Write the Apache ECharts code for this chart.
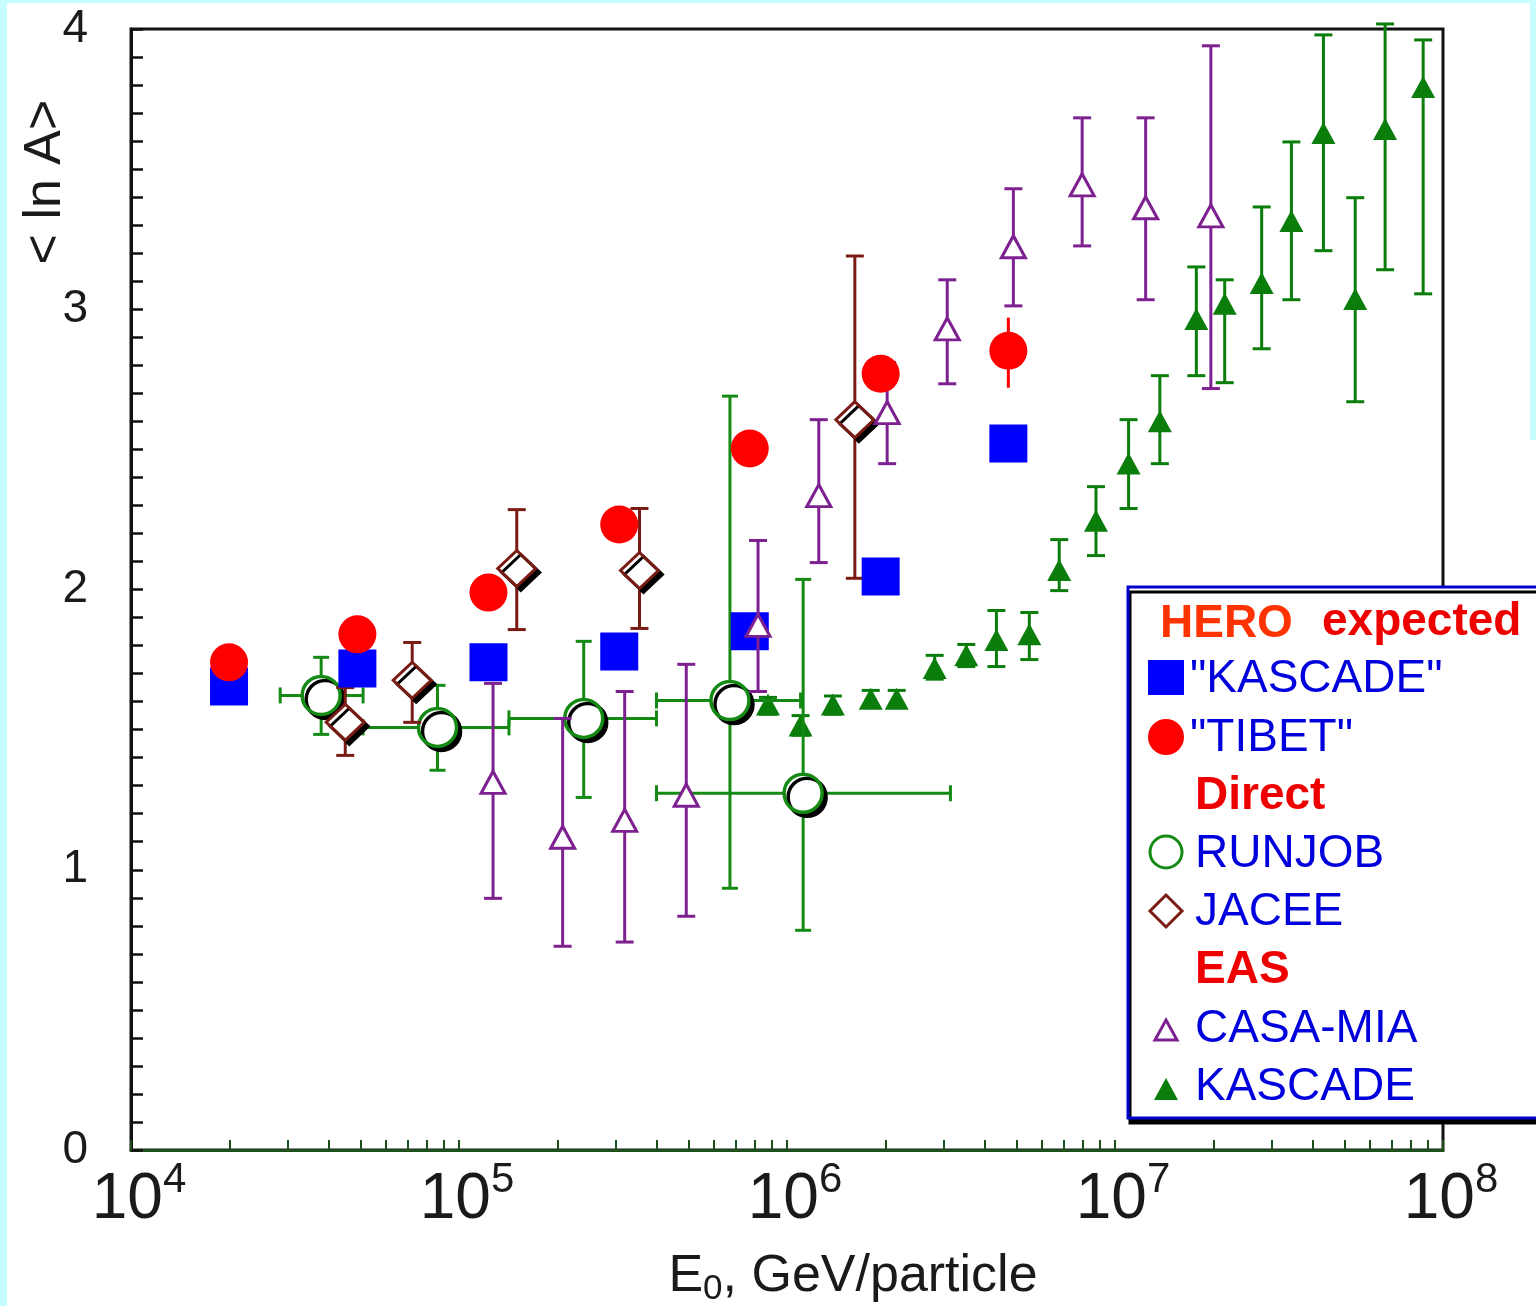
<!DOCTYPE html>
<html><head><meta charset="utf-8">
<script src="https://cdn.jsdelivr.net/npm/echarts@6/dist/echarts.min.js"></script>
<style>html,body{margin:0;padding:0;background:#fff;}#c{width:1536px;height:1306px;}</style>
</head><body><div id="c"></div>
<script>
// ---------- data ----------
// HERO expected points (same energies for both)
const heroE = [1.99e4, 4.9e4, 1.23e5, 3.08e5, 7.7e5, 1.93e6, 4.73e6];
const heroKascadeLnA = [1.654, 1.718, 1.740, 1.779, 1.851, 2.046, 2.521];
const heroTibetLnA = [1.740, 1.840, 1.989, 2.232, 2.503, 2.770, 2.852];
const heroTibetLow = [null, null, null, null, null, null, 2.72];
const heroTibetHigh = [null, null, null, null, null, null, 2.97];

// RUNJOB (direct)
const runjobE = [3.8e4, 8.6e4, 2.4e5, 6.7e5, 1.12e6];
const runjobLnA = [1.622, 1.508, 1.540, 1.604, 1.273];
const runjobLow = [1.483, 1.355, 1.258, 0.934, 0.784];
const runjobHigh = [1.758, 1.658, 1.815, 2.690, 2.036];
const runjobEmin = [2.85e4, 5.1e4, 1.42e5, 4.0e5, 4.0e5];
const runjobEmax = [5.1e4, 1.42e5, 4.0e5, 1.1e6, 3.15e6];

// JACEE (direct)
const jaceeE = [4.5e4, 7.2e4, 1.5e5, 3.55e5, 1.61e6];
const jaceeLnA = [1.526, 1.676, 2.075, 2.068, 2.606];
const jaceeLow = [1.408, 1.526, 1.857, 1.861, 2.040];
const jaceeHigh = [1.650, 1.811, 2.285, 2.289, 3.190];

// CASA-MIA (EAS)
const casaE = [1.27e5, 2.07e5, 3.2e5, 4.93e5, 8.16e5, 1.25e6, 2.02e6, 3.08e6, 4.9e6, 7.94e6, 1.24e7, 1.96e7];
const casaLnA = [1.312, 1.116, 1.176, 1.266, 1.872, 2.335, 2.631, 2.930, 3.223, 3.444, 3.362, 3.333];
const casaLow = [0.898, 0.727, 0.742, 0.834, 1.636, 2.096, 2.449, 2.734, 3.012, 3.226, 3.034, 2.717];
const casaHigh = [1.665, 1.540, 1.636, 1.733, 2.175, 2.606, 2.810, 3.105, 3.430, 3.683, 3.683, 3.940];

// KASCADE (EAS)
const kascadeE = [8.75e5, 1.10e6, 1.38e6, 1.80e6, 2.16e6, 2.82e6, 3.52e6, 4.35e6, 5.48e6, 6.76e6, 8.75e6,
                  1.10e7, 1.37e7, 1.77e7, 2.16e7, 2.80e7, 3.45e7, 4.32e7, 5.40e7, 6.66e7, 8.70e7];
const kascadeLnA = [1.590, 1.515, 1.590, 1.610, 1.610, 1.720, 1.765, 1.820, 1.840, 2.070, 2.245,
                    2.450, 2.600, 2.965, 3.020, 3.094, 3.315, 3.629, 3.037, 3.643, 3.793];
const kascadeLow = [1.555, 1.480, 1.555, 1.580, 1.580, 1.680, 1.725, 1.725, 1.750, 1.996, 2.121,
                    2.289, 2.449, 2.763, 2.738, 2.859, 3.034, 3.209, 2.670, 3.141, 3.055];
const kascadeHigh = [1.615, 1.550, 1.620, 1.640, 1.640, 1.765, 1.804, 1.925, 1.918, 2.178, 2.367,
                     2.606, 2.763, 3.151, 3.105, 3.365, 3.597, 3.979, 3.398, 4.018, 3.961];

// axis ticks / labels
const xTickValues = [1e4, 1e5, 1e6, 1e7, 1e8];
const xTickExponents = ['4', '5', '6', '7', '8'];
const xMinorMultipliers = [1, 2, 3, 4, 5, 6, 7, 8, 9];
const xDecades = [1e4, 1e5, 1e6, 1e7];
const yTickLabels = ['0', '1', '2', '3', '4'];

// ---------- chart ----------
const FF = '"Liberation Sans", Arial, Helvetica, sans-serif';
const C = {
  blue: '#0000ff', red: '#ff0000', green: '#148a14', kgreen: '#0a7d0a',
  brown: '#7a1c14', purple: '#7d2090', text: '#1a1a1a', legendBlue: '#0000dd'
};
const xMinorTicks = [];
xDecades.forEach(d => xMinorMultipliers.forEach(m => xMinorTicks.push(d * m)));
xMinorTicks.push(1e8);

function pairs(xs, ys) { return xs.map((x, i) => [x, ys[i]]); }

function vErr(name, E, lo, hi, color, cap, z) {
  const data = [];
  E.forEach((e, i) => { if (lo[i] != null) data.push([e, lo[i], hi[i]]); });
  return {
    type: 'custom', name, data, clip: false, z, silent: true,
    encode: { x: 0, y: [1, 2] },
    renderItem: (params, api) => {
      const x = api.value(0);
      const p1 = api.coord([x, api.value(1)]);
      const p2 = api.coord([x, api.value(2)]);
      const st = { stroke: color, lineWidth: 3 };
      return { type: 'group', children: [
        { type: 'line', shape: { x1: p1[0], y1: p1[1], x2: p2[0], y2: p2[1] }, style: st },
        { type: 'line', shape: { x1: p1[0] - cap / 2, y1: p1[1], x2: p1[0] + cap / 2, y2: p1[1] }, style: st },
        { type: 'line', shape: { x1: p2[0] - cap / 2, y1: p2[1], x2: p2[0] + cap / 2, y2: p2[1] }, style: st }
      ]};
    }
  };
}
function hErr(name, emin, emax, v, color, cap, z) {
  const data = v.map((y, i) => [emin[i], emax[i], y]);
  return {
    type: 'custom', name, data, clip: false, z, silent: true,
    encode: { x: [0, 1], y: 2 },
    renderItem: (params, api) => {
      const y = api.value(2);
      const p1 = api.coord([api.value(0), y]);
      const p2 = api.coord([api.value(1), y]);
      const st = { stroke: color, lineWidth: 3 };
      return { type: 'group', children: [
        { type: 'line', shape: { x1: p1[0], y1: p1[1], x2: p2[0], y2: p2[1] }, style: st },
        { type: 'line', shape: { x1: p1[0], y1: p1[1] - cap / 2, x2: p1[0], y2: p1[1] + cap / 2 }, style: st },
        { type: 'line', shape: { x1: p2[0], y1: p2[1] - cap / 2, x2: p2[0], y2: p2[1] + cap / 2 }, style: st }
      ]};
    }
  };
}

const shadow = { shadowColor: '#000', shadowBlur: 0, shadowOffsetX: 4, shadowOffsetY: 4 };
const noEmph = { disabled: true };

const series = [
  vErr('KASCADE err', kascadeE, kascadeLow, kascadeHigh, C.kgreen, 18, 2),
  { type: 'scatter', name: 'KASCADE', data: pairs(kascadeE, kascadeLnA), symbol: 'triangle', symbolSize: [24, 22],
    itemStyle: { color: C.kgreen, opacity: 1 }, z: 3, silent: true, emphasis: noEmph },
  vErr('RUNJOB verr', runjobE, runjobLow, runjobHigh, C.green, 16, 4),
  hErr('RUNJOB herr', runjobEmin, runjobEmax, runjobLnA, C.green, 16, 4),
  { type: 'scatter', name: 'RUNJOB', data: pairs(runjobE, runjobLnA), symbol: 'circle', symbolSize: 38,
    itemStyle: Object.assign({ color: '#fff', borderColor: C.green, borderWidth: 3.5, opacity: 1 }, shadow), z: 5, silent: true, emphasis: noEmph },
  vErr('JACEE err', jaceeE, jaceeLow, jaceeHigh, C.brown, 18, 6),
  { type: 'scatter', name: 'JACEE', data: pairs(jaceeE, jaceeLnA), symbol: 'diamond', symbolSize: [38, 36],
    itemStyle: Object.assign({ color: '#fff', borderColor: C.brown, borderWidth: 3, opacity: 1 }, shadow), z: 7, silent: true, emphasis: noEmph },
  { type: 'scatter', name: '"KASCADE"', data: pairs(heroE, heroKascadeLnA), symbol: 'rect', symbolSize: 38,
    itemStyle: { color: C.blue, opacity: 1 }, z: 8, silent: true, emphasis: noEmph },
  vErr('CASA err', casaE, casaLow, casaHigh, C.purple, 18, 9),
  { type: 'scatter', name: 'CASA-MIA', data: pairs(casaE, casaLnA), symbol: 'triangle', symbolSize: [24, 22],
    itemStyle: { color: '#fff', borderColor: C.purple, borderWidth: 3, opacity: 1 }, z: 10, silent: true, emphasis: noEmph },
  vErr('TIBET err', heroE, heroTibetLow, heroTibetHigh, C.red, 0, 11),
  { type: 'scatter', name: '"TIBET"', data: pairs(heroE, heroTibetLnA), symbol: 'circle', symbolSize: 38,
    itemStyle: { color: C.red, opacity: 1 }, z: 12, silent: true, emphasis: noEmph }
];

// legend drawn as graphic
const LX = 1195;
const legendText = (x, y, text, color, weight) => ({
  type: 'text', x, y, z: 101,
  style: { text, fill: color, font: (weight || 'normal') + ' 46px ' + FF, textAlign: 'left', textVerticalAlign: 'middle' }
});
const graphic = [
  { type: 'rect', shape: { x: 0, y: 0, width: 7, height: 1306 }, style: { fill: '#c8fdff' }, z: 200 },
  { type: 'rect', shape: { x: 0, y: 0, width: 1536, height: 3 }, style: { fill: '#c8fdff' }, z: 200 },
  { type: 'rect', shape: { x: 1530, y: 0, width: 6, height: 440 }, style: { fill: '#c8fdff' }, z: 200 },
  { type: 'rect', shape: { x: 1128, y: 587, width: 420, height: 531 }, z: 100,
    style: { fill: '#fff', stroke: '#0000cc', lineWidth: 3, shadowColor: '#000', shadowBlur: 0, shadowOffsetX: 2, shadowOffsetY: 5 } },
  legendText(1160, 624, 'HERO', '#ff3300', 'bold'),
  legendText(1322, 622, 'expected', '#ee0000', 'bold'),
  legendText(1190, 679, '"KASCADE"', C.legendBlue),
  legendText(1190, 738, '"TIBET"', C.legendBlue),
  legendText(LX, 796, 'Direct', '#ee0000', 'bold'),
  legendText(LX, 854, 'RUNJOB', C.legendBlue),
  legendText(LX, 912, 'JACEE', C.legendBlue),
  legendText(LX, 970, 'EAS', '#ee0000', 'bold'),
  legendText(LX, 1029, 'CASA-MIA', C.legendBlue),
  legendText(LX, 1087, 'KASCADE', C.legendBlue),
  { type: 'rect', z: 101, shape: { x: 1148, y: 660, width: 36, height: 35 }, style: { fill: C.blue } },
  { type: 'circle', z: 101, shape: { cx: 1166, cy: 737, r: 18 }, style: { fill: C.red } },
  { type: 'circle', z: 101, shape: { cx: 1166, cy: 852, r: 16 }, style: { fill: '#fff', stroke: C.green, lineWidth: 3 } },
  { type: 'polygon', z: 101, shape: { points: [[1166, 895], [1182, 911], [1166, 927], [1150, 911]] }, style: { fill: '#fff', stroke: C.brown, lineWidth: 3 } },
  { type: 'polygon', z: 101, shape: { points: [[1166, 1020], [1177, 1040], [1155, 1040]] }, style: { fill: '#fff', stroke: C.purple, lineWidth: 3 } },
  { type: 'polygon', z: 101, shape: { points: [[1166, 1078], [1178, 1100], [1154, 1100]] }, style: { fill: C.kgreen } },
  // axis names
  { type: 'text', x: 46, y: 182, rotation: Math.PI / 2, z: 50,
    style: { text: '< ln A>', fill: C.text, font: '52px ' + FF, textAlign: 'center', textVerticalAlign: 'middle' } },
  { type: 'text', x: 853, y: 1281, z: 50,
    style: { text: '{e|E}{s|0}{e|, GeV/particle}', textAlign: 'center', textVerticalAlign: 'middle',
      rich: { e: { fontSize: 52, fontFamily: FF, fill: C.text, lineHeight: 52, padding: [0, 0, 8, 0] },
              s: { fontSize: 35, fontFamily: FF, fill: C.text, lineHeight: 35, verticalAlign: 'bottom' } } } }
];

const option = {
  animation: false,
  backgroundColor: '#fff',
  grid: { left: 131, right: 93, top: 29, bottom: 156, show: true, borderColor: '#111', borderWidth: 3, backgroundColor: '#fff' },
  xAxis: {
    type: 'log', logBase: 10, min: 1e4, max: 1e8,
    axisLine: { lineStyle: { color: '#1d4f1d', width: 3 } },
    axisTick: { show: true, inside: true, length: 10, lineStyle: { color: '#1d4f1d', width: 2 }, customValues: xMinorTicks },
    minorTick: { show: false },
    splitLine: { show: false },
    axisLabel: {
      customValues: xTickValues, margin: 9, hideOverlap: false, showMinLabel: true, showMaxLabel: true,
      formatter: (val) => {
        const i = xTickValues.findIndex(v => Math.abs(v - val) / v < 1e-6);
        return '{b|10}{s|' + (i >= 0 ? xTickExponents[i] : '') + '}';
      },
      rich: {
        b: { fontSize: 64, fontFamily: FF, color: C.text, lineHeight: 64, padding: [18, 0, 0, 16] },
        s: { fontSize: 42, fontFamily: FF, color: C.text, lineHeight: 42, verticalAlign: 'top' }
      }
    }
  },
  yAxis: {
    type: 'value', min: 0, max: 4, interval: 0.1,
    axisLine: { show: true, lineStyle: { color: '#111', width: 3 } },
    axisTick: { show: true, inside: true, length: 12, lineStyle: { color: '#111', width: 2.5 } },
    minorTick: { show: false },
    splitLine: { show: false },
    axisLabel: { fontSize: 46, fontFamily: FF, color: C.text, margin: 43, hideOverlap: false,
      formatter: (v) => {
        const r = Math.round(v);
        return Math.abs(v - r) < 1e-6 ? yTickLabels[r] : '';
      } }
  },
  series,
  graphic
};

const chart = echarts.init(document.getElementById('c'), null, { renderer: 'canvas' });
chart.setOption(option);
</script>
</body></html>
